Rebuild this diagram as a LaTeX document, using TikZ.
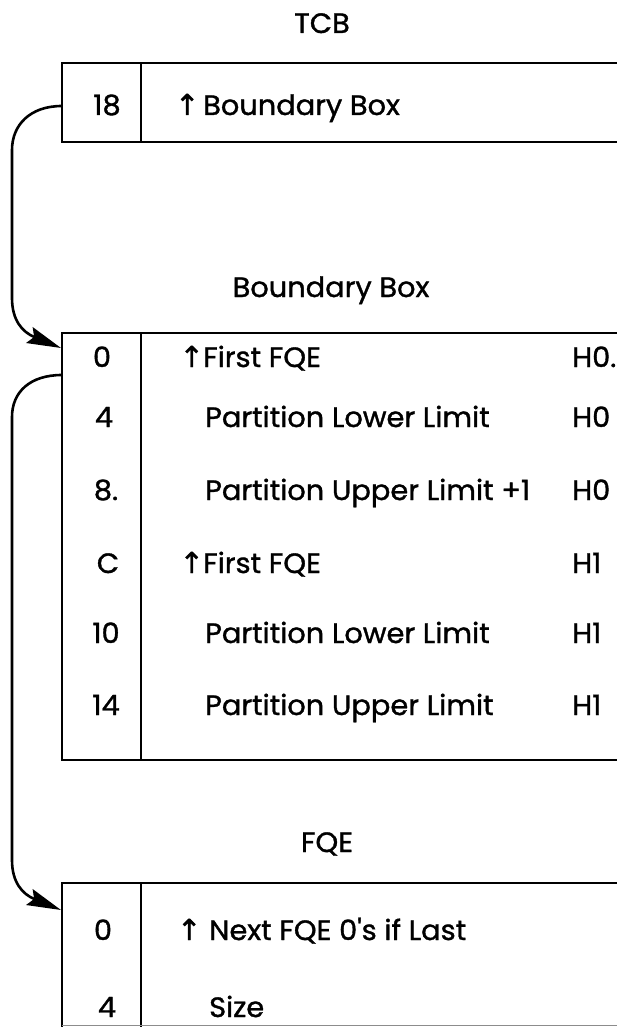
\documentclass[tikz,border=0pt]{standalone}
\usepackage{fontspec}
\setmainfont{Poppins}[FakeBold=1.2,FakeStretch=1.03]
\newfontfamily\symfont{DejaVu Sans}[FakeBold=1.5]
\usetikzlibrary{arrows.meta}
\newcommand{\ptrmark}{\makebox[12pt][c]{\symfont\fontsize{29}{29}\selectfont ↑}}
\tikzset{
  boxline/.style={line width=2.6pt},
  faint/.style={line width=1pt, draw=black!45},
  lbl/.style={inner sep=0pt, font=\fontsize{28}{28}\selectfont},
  num/.style={lbl, anchor=base},
  fld/.style={lbl, anchor=base west},
  ttl/.style={lbl, anchor=base},
  ptr/.style={line width=2.6pt, -{Stealth[length=34pt,width=17pt,inset=5pt]}},
}
\begin{document}
\begin{tikzpicture}[x=1pt,y=-1pt]
\useasboundingbox (0,0) rectangle (617,1027);

% ---------- TCB ----------
\node[ttl] (tcbT) at (322,33) {TCB};
\draw[boxline] (617,63) -- (62,63) -- (62,142) -- (617,142);
\draw[boxline] (141,63) -- (141,142);
\node[num] (t18) at (107,115) {18};
\node[fld] (tbb) at (181,115) {\ptrmark\hspace{10pt}Boundary Box};
\coordinate (tcbOut) at (62,106);

% ---------- Boundary Box ----------
\node[ttl] (bbT) at (331,297) {Boundary Box};
\draw[boxline] (617,333) -- (62,333) -- (62,760) -- (617,760);
\draw[boxline] (141,333) -- (141,760);
\coordinate (bbIn) at (61,348);
\coordinate (bbOut) at (62,375);

\node[num] (b0) at (102,367) {0};
\node[num] (b4) at (104,427) {4};
\node[num] (b8) at (106,500) {8.};
\node[num] (bC) at (108,573) {C};
\node[num] (b10) at (106,643) {10};
\node[num] (b14) at (106,715) {14};

\node[fld] (f0) at (185.5,367) {\ptrmark\hspace{5.5pt}First FQE};
\node[fld] (f4) at (205,427) {Partition Lower Limit};
\node[fld] (f8) at (205,500) {Partition Upper Limit +1};
\node[fld] (fC) at (185.5,573) {\ptrmark\hspace{5.5pt}First FQE};
\node[fld] (f10) at (205,643) {Partition Lower Limit};
\node[fld] (f14) at (205,715) {Partition Upper Limit};

\node[fld] (h0a) at (572,367) {H0.};
\node[fld] (h0b) at (572,427) {H0};
\node[fld] (h0c) at (572,500) {H0};
\node[fld] (h1a) at (572,573) {H1};
\node[fld] (h1b) at (572,643) {H1};
\node[fld] (h1c) at (572,715) {H1};

% ---------- FQE ----------
\node[ttl] (fqeT) at (327,852) {FQE};
\draw[boxline] (617,883) -- (62,883) -- (62,1027);
\draw[boxline] (141,883) -- (141,1027);
\draw[faint] (62,1025) -- (617,1025);
\coordinate (fqeIn) at (61,910);
\node[num] (q0) at (103,940) {0};
\node[num] (q4) at (107,1017) {4};
\node[fld] (qn) at (183,940) {\ptrmark\hspace{14pt}Next FQE 0\textquotesingle s if Last};
\node[fld] (qs) at (209,1017) {Size};

% ---------- pointers ----------
\draw[ptr] (tcbOut) .. controls (30,106) and (12,125) .. (12,150)
  -- (12,298) .. controls (12,320) and (22,332) .. (bbIn);
\draw[ptr] (bbOut) .. controls (30,375) and (12,392) .. (12,417)
  -- (12,860) .. controls (12,882) and (22,894) .. (fqeIn);
\end{tikzpicture}
\end{document}
